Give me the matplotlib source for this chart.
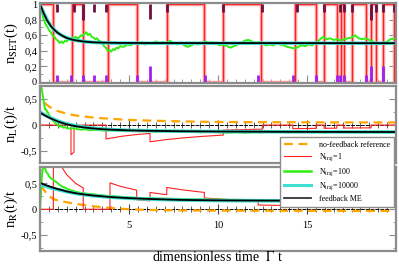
import matplotlib
matplotlib.use('Agg')
from matplotlib import pyplot as plt
from matplotlib.ticker import MultipleLocator, FuncFormatter
from matplotlib.lines import Line2D

plt.rcParams['font.family'] = ['Liberation Serif', 'DejaVu Serif']
plt.rcParams['mathtext.fontset'] = 'stix'

# ---------------- top panel: n_SET(t)
t_me_set = [0, 0.2, 0.4, 0.6, 0.8, 1.0, 1.25, 1.5, 1.75, 2.0, 2.5, 3.0, 3.5, 4.5, 6, 20]
me_set = [1.0, 0.885, 0.79, 0.72, 0.67, 0.63, 0.593, 0.565, 0.547, 0.534, 0.518, 0.509, 0.505, 0.501, 0.5, 0.498]

t_cy_set = [0, 0.2, 0.4, 0.6, 0.8, 1.0, 1.25, 1.5, 1.75, 2.0, 2.5, 3.0, 4.0, 6, 10, 14, 20]
cy_set = [1.0, 0.89, 0.8, 0.725, 0.67, 0.63, 0.595, 0.568, 0.548, 0.535, 0.518, 0.508, 0.5, 0.497, 0.497, 0.498, 0.497]

t_gr_set = [0, 0.05, 0.1, 0.15, 0.2, 0.25, 0.3, 0.35, 0.4, 0.5, 0.6, 0.7, 0.8, 0.9, 1.0, 1.1, 1.2, 1.3, 1.4,
            1.5, 1.6, 1.7, 1.8, 1.9, 2.0, 2.1, 2.2, 2.3, 2.4, 2.5, 2.6, 2.7, 2.8, 2.9, 3.0, 3.1, 3.2, 3.3, 3.4,
            3.5, 3.6, 3.7, 3.8, 3.9, 4.0, 4.1, 4.2, 4.3, 4.4, 4.5, 4.7, 4.9, 5.1, 5.3, 5.5, 5.7, 5.9, 6.1, 6.3,
            6.5, 6.7, 6.9, 7.1, 7.3, 7.5, 7.7, 7.9, 8.1, 8.3, 8.5, 8.7, 8.9, 9.1, 9.3, 9.5, 9.7, 9.9, 10.1,
            10.3, 10.5, 10.7, 10.9, 11.1, 11.3, 11.5, 11.7, 11.9, 12.1, 12.3, 12.5, 12.7, 12.9, 13.1, 13.3,
            13.5, 13.7, 13.9, 14.1, 14.3, 14.5, 14.7, 14.9, 15.1, 15.3, 15.5, 15.7, 15.9, 16.1, 16.3, 16.5,
            16.7, 16.9, 17.1, 17.3, 17.5, 17.7, 17.9, 18.1, 18.3, 18.5, 18.7, 18.9, 19.1, 19.3, 19.5, 19.7, 20.0]
gr_set = [1.0, 0.95, 0.9, 0.86, 0.8, 0.78, 0.75, 0.73, 0.71, 0.67, 0.64, 0.6, 0.58, 0.55, 0.53, 0.5, 0.52, 0.5, 0.53,
          0.52, 0.55, 0.54, 0.57, 0.56, 0.58, 0.56, 0.57, 0.6, 0.59, 0.62, 0.64, 0.6, 0.62, 0.58, 0.57, 0.55, 0.56, 0.53, 0.52,
          0.49, 0.46, 0.44, 0.4, 0.41, 0.39, 0.42, 0.41, 0.44, 0.43, 0.46, 0.45, 0.48, 0.47, 0.5, 0.49, 0.51, 0.48, 0.5, 0.49,
          0.52, 0.5, 0.51, 0.49, 0.53, 0.5, 0.48, 0.5, 0.47, 0.45, 0.47, 0.49, 0.48, 0.5, 0.52, 0.5, 0.51, 0.49, 0.47,
          0.48, 0.46, 0.44, 0.46, 0.48, 0.5, 0.53, 0.54, 0.52, 0.5, 0.51, 0.49, 0.47, 0.48, 0.47, 0.49,
          0.48, 0.47, 0.45, 0.44, 0.43, 0.45, 0.47, 0.46, 0.48, 0.47, 0.5, 0.54, 0.58, 0.55, 0.56, 0.54,
          0.55, 0.53, 0.55, 0.56, 0.57, 0.6, 0.56, 0.55, 0.56, 0.54, 0.52, 0.49, 0.5, 0.49, 0.52, 0.55, 0.56]

# single trajectory, switching times and occupation after each switch
t_rd_set = [0, 0.75, 1.8, 2.43, 3.8, 5.45, 7.12, 9.23, 10.3, 12.4, 14.3, 15.51, 15.96, 16.67, 16.9,
            17.08, 17.54, 18.31, 18.6, 18.86, 19.25, 19.9, 20]
rd_set = [1, 0, 1, 0, 1, 0, 1, 0, 1, 0, 1, 0, 1, 0, 1, 0, 1, 0, 1, 0, 1, 0, 0]

# jump markers
t_jump_top = [0.97, 1.91, 2.43, 3.05, 3.71, 6.18, 7.12, 10.30, 12.49, 14.46, 15.96, 16.85, 17.08,
              17.54, 18.60, 18.86, 19.25, 19.90]
end_jump_top = [0.9, 0.9, 0.8, 0.9, 0.9, 0.81, 0.9, 0.9, 0.9, 0.9, 0.9, 0.9, 0.9,
                0.9, 0.8, 0.9, 0.9, 0.9]
t_jump_bot = [0.97, 1.74, 2.43, 3.05, 3.71, 5.45, 6.18, 9.25, 12.26, 14.20, 15.51, 16.67, 16.85,
              17.08, 18.31, 18.60, 19.25]
end_jump_bot = [0.09, 0.09, 0.09, 0.09, 0.09, 0.09, 0.2, 0.09, 0.09, 0.09, 0.09, 0.09, 0.09,
                0.09, 0.09, 0.2, 0.2]

# ---------------- middle panel: n_L(t)/t
t_me_L = [0, 0.25, 0.5, 0.75, 1.0, 1.25, 1.5, 1.75, 2.0, 2.5, 3, 3.5, 4, 5, 6, 8, 10, 13, 16, 20]
me_L = [0.24, 0.19, 0.145, 0.105, 0.07, 0.04, 0.015, -0.005, -0.022, -0.048, -0.066, -0.08, -0.09,
        -0.103, -0.111, -0.12, -0.125, -0.13, -0.133, -0.135]
t_cy_L = [0, 0.25, 0.5, 0.75, 1, 1.25, 1.5, 2, 2.5, 3, 4, 5, 6, 8, 10, 14, 20]
cy_L = [0.25, 0.2, 0.155, 0.115, 0.08, 0.05, 0.025, -0.015, -0.042, -0.062, -0.088, -0.102, -0.11,
        -0.12, -0.125, -0.131, -0.135]
t_gr_L = [0, 0.05, 0.1, 0.15, 0.2, 0.25, 0.3, 0.35, 0.4, 0.45, 0.5, 0.6, 0.7, 0.8, 0.9, 1.0, 1.1, 1.2,
          1.3, 1.4, 1.5, 1.7, 1.9, 2.1, 2.3, 2.5, 2.8, 3.1, 3.4, 3.7, 4.0, 4.4, 4.8, 5.2, 5.6, 6.0, 6.5,
          7.0, 7.5, 8.0, 8.5, 9.0, 9.5, 10, 10.5, 11, 11.5, 12, 12.5, 13, 14, 15, 16, 17, 18, 19, 20]
gr_L = [0.78, 0.76, 0.7, 0.58, 0.48, 0.36, 0.3, 0.3, 0.25, 0.24, 0.2, 0.15, 0.1, 0.06, 0.03, 0.0, -0.03, -0.02,
        -0.05, -0.04, -0.06, -0.07, -0.06, -0.08, -0.09, -0.08, -0.1, -0.09, -0.1, -0.11, -0.1, -0.11, -0.12,
        -0.11, -0.12, -0.11, -0.13, -0.12, -0.13, -0.12, -0.13, -0.14, -0.13, -0.14, -0.15, -0.14, -0.15,
        -0.14, -0.14, -0.13, -0.14, -0.13, -0.14, -0.13, -0.14, -0.13, -0.13]
t_or_L = [0.25, 0.5, 0.75, 1, 1.5, 2, 3, 4, 5, 6, 8, 9, 10, 13, 16, 20]
or_L = [0.43, 0.36, 0.31, 0.27, 0.22, 0.185, 0.145, 0.12, 0.1, 0.088, 0.07, 0.064, 0.06, 0.055, 0.052, 0.05]
t_rd_L = [0, 1.74, 1.74, 1.91, 1.91, 3.71, 3.71, 4.5, 5.0, 5.5, 6.18, 6.18, 7.0, 8.0, 9.0, 10.3, 10.3,
          11.0, 12.49, 12.49, 14.2, 14.2, 15.51, 15.51, 15.96, 15.96, 16.67, 16.67, 17.08, 17.08, 18.6,
          18.6, 20]
rd_L = [0, 0, -0.575, -0.524, 0, 0, -0.27, -0.222, -0.2, -0.182, -0.162, -0.324, -0.286, -0.25, -0.222,
        -0.194, -0.097, -0.091, -0.08, 0, 0, -0.07, -0.064, 0, 0, -0.063, -0.06, 0, 0, -0.058, -0.054, 0, 0]

# ---------------- bottom panel: n_R(t)/t
t_me_R = [0, 0.25, 0.5, 0.75, 1, 1.5, 2, 2.5, 3, 4, 5, 6, 8, 10, 13, 20]
me_R = [0.51, 0.475, 0.445, 0.415, 0.39, 0.345, 0.31, 0.285, 0.265, 0.235, 0.215, 0.2, 0.18, 0.172, 0.167, 0.163]
t_cy_R = [0, 0.25, 0.5, 0.75, 1, 1.5, 2, 2.5, 3, 4, 5, 6, 8, 10, 14, 20]
cy_R = [0.48, 0.45, 0.425, 0.4, 0.38, 0.34, 0.305, 0.28, 0.26, 0.232, 0.212, 0.197, 0.178, 0.168, 0.162, 0.158]
t_gr_R = [0, 0.05, 0.1, 0.15, 0.2, 0.25, 0.3, 0.35, 0.4, 0.45, 0.5, 0.6, 0.7, 0.8, 0.9, 1.0, 1.1, 1.2, 1.3,
          1.4, 1.5, 1.7, 1.9, 2.1, 2.4, 2.7, 3.0, 3.4, 3.8, 4.2, 4.6, 5.0, 5.5, 6, 7, 8, 9, 10, 12, 14, 16, 18, 20]
gr_R = [0.0, 0.3, 0.62, 0.78, 0.8, 0.82, 0.78, 0.72, 0.7, 0.68, 0.64, 0.6, 0.58, 0.55, 0.53, 0.5, 0.47, 0.45,
        0.43, 0.42, 0.4, 0.37, 0.35, 0.33, 0.31, 0.3, 0.29, 0.27, 0.26, 0.25, 0.24, 0.23, 0.22, 0.215, 0.205,
        0.2, 0.19, 0.185, 0.18, 0.178, 0.175, 0.172, 0.17]
t_or_R = [0.05, 0.2, 0.4, 0.6, 0.8, 1.0, 1.5, 2.0, 2.5, 3, 3.5, 4, 5, 6, 8, 10, 14, 20]
or_R = [0.46, 0.38, 0.29, 0.23, 0.19, 0.17, 0.135, 0.105, 0.08, 0.058, 0.04, 0.025, 0.0, -0.012, -0.022,
        -0.026, -0.03, -0.032]
t_rd_R = [0, 0.75, 0.75, 1.0, 1.25, 1.5, 2.0, 2.43, 2.43, 3.93, 3.93, 4.5, 5.43, 5.43, 6.18, 6.18, 7.12,
          7.12, 8.0, 9.23, 9.23, 10.5, 12.26, 12.26, 14.46, 14.46, 17.08, 17.08, 17.54, 17.54, 18.31, 18.31,
          18.6, 18.6, 20]
rd_R = [0, 0, 1.333, 1.0, 0.8, 0.667, 0.5, 0.41, 0, 0, 0.51, 0.444, 0.368, 0.184, 0.162, 0.324, 0.281,
        0.421, 0.375, 0.325, 0.217, 0.19, 0.163, 0.082, 0.069, 0.138, 0.117, 0.059, 0.057, 0.114, 0.109,
        0.055, 0.054, 0.108, 0.1]

x_ticks = [5, 10, 15]

frame = '#8c8c8c'
c_red = '#ff2020'
c_pink = '#ffa0a0'
c_green = '#33ee11'
c_cyan = '#40e0d0'
c_orange = '#ffa500'


def fmt(v, p):
    return ('%g' % round(v, 2)).replace('.', ',')


def style(ax, ylo, yhi, major, minor):
    ax.set_xlim(0, 20)
    ax.set_ylim(ylo, yhi)
    for s in ax.spines.values():
        s.set_color(frame)
        s.set_linewidth(1.6)
    ax.yaxis.set_major_locator(MultipleLocator(major))
    ax.yaxis.set_minor_locator(MultipleLocator(minor))
    ax.yaxis.set_major_formatter(FuncFormatter(fmt))
    ax.tick_params(axis='y', which='both', direction='in', left=True, right=True, color=frame,
                   labelsize=7.5, pad=2)
    ax.tick_params(axis='y', which='major', length=5)
    ax.tick_params(axis='y', which='minor', length=2.5)
    ax.yaxis.set_label_coords(-0.055, 0.5)


fig = plt.figure(figsize=(3.99, 2.69), dpi=100)
ax1 = fig.add_axes([0.1003, 0.6914, 0.8922, 0.2974])
ax2 = fig.add_axes([0.1003, 0.395, 0.8922, 0.286])
ax3 = fig.add_axes([0.1003, 0.068, 0.8922, 0.312])

# top
style(ax1, -0.015, 1.015, 0.2, 0.1)
ax1.xaxis.set_major_locator(MultipleLocator(5))
ax1.xaxis.set_minor_locator(MultipleLocator(0.5))
ax1.tick_params(axis='x', which='both', direction='in', color=frame, labelbottom=False)
ax1.tick_params(axis='x', which='major', length=6)
ax1.tick_params(axis='x', which='minor', length=3)
ax1.step(t_rd_set, rd_set, where='post', color=c_pink, lw=2.5)
ax1.step(t_rd_set, rd_set, where='post', color=c_red, lw=0.8)
ax1.vlines(t_jump_top, end_jump_top, 1.0, color='#6a1040', lw=2)
ax1.vlines(t_jump_bot, 0.0, end_jump_bot, color='#a020f0', lw=2)
ax1.plot(t_gr_set, gr_set, color=c_green, lw=1.4)
ax1.plot(t_cy_set, cy_set, color=c_cyan, lw=2.6)
ax1.plot(t_me_set, me_set, color='black', lw=1.3)
ax1.set_ylabel(r'n$_{\rm SET}$(t)', fontsize=10.5)

# middle and bottom
panels = [(ax2, -0.73, 0.76, t_or_L, or_L, t_rd_L, rd_L, t_gr_L, gr_L, t_cy_L, cy_L, t_me_L, me_L,
           r'n$_{\rm L}$(t)/t'),
          (ax3, -0.8, 0.82, t_or_R, or_R, t_rd_R, rd_R, t_gr_R, gr_R, t_cy_R, cy_R, t_me_R, me_R,
           r'n$_{\rm R}$(t)/t')]
for (ax, lo, hi, to, yo, tr, yr, tg, yg, tc, yc, tm, ym, lab) in panels:
    style(ax, lo, hi, 0.5, 0.25)
    ax.tick_params(axis='x', which='both', bottom=False, labelbottom=False)
    ax.plot(to, yo, color=c_orange, lw=1.6, dashes=(4, 2.5))
    ax.plot(tr, yr, color=c_red, lw=0.8)
    ax.plot(tg, yg, color=c_green, lw=1.4)
    ax.plot(tc, yc, color=c_cyan, lw=2.6)
    ax.plot(tm, ym, color='black', lw=1.3)
    ax.set_ylabel(lab, fontsize=10.5)
    sec = ax.secondary_xaxis(-lo / (hi - lo))
    sec.set_alignment('bottom')
    sec.spines['bottom'].set_linestyle((0, (3, 2)))
    sec.spines['bottom'].set_linewidth(0.7)
    sec.spines['bottom'].set_color('black')
    sec.set_xticks(x_ticks)
    sec.xaxis.set_minor_locator(MultipleLocator(0.5))
    sec.tick_params(axis='x', which='both', direction='inout', color='#444444', labelsize=7.5, pad=5)
    sec.tick_params(axis='x', which='major', length=7)
    sec.tick_params(axis='x', which='minor', length=4)
    if ax is ax2:
        sec.tick_params(axis='x', labelbottom=False)

handles = [Line2D([], [], color=c_orange, lw=1.6, dashes=(4, 2.5)),
           Line2D([], [], color=c_red, lw=0.8),
           Line2D([], [], color=c_green, lw=1.8),
           Line2D([], [], color=c_cyan, lw=2.2),
           Line2D([], [], color='#333333', lw=1.3)]
labels = ['no-feedback reference', r'N$_{\rm traj}$=1', r'N$_{\rm traj}$=100',
          r'N$_{\rm traj}$=10000', 'feedback ME']
leg = fig.legend(handles, labels, loc='upper right', bbox_to_anchor=(0.9875, 0.491), fontsize=5.8,
                 handlelength=3.4, handletextpad=1.0, labelspacing=0.35, borderpad=0.45,
                 fancybox=False, framealpha=1, edgecolor=frame, borderaxespad=0)
leg.get_frame().set_linewidth(1.0)

fig.text(0.546, 0.045, r'dimensionless time  $\Gamma$ t', ha='center', va='center', fontsize=10)

plt.savefig('out.png', dpi=100)
